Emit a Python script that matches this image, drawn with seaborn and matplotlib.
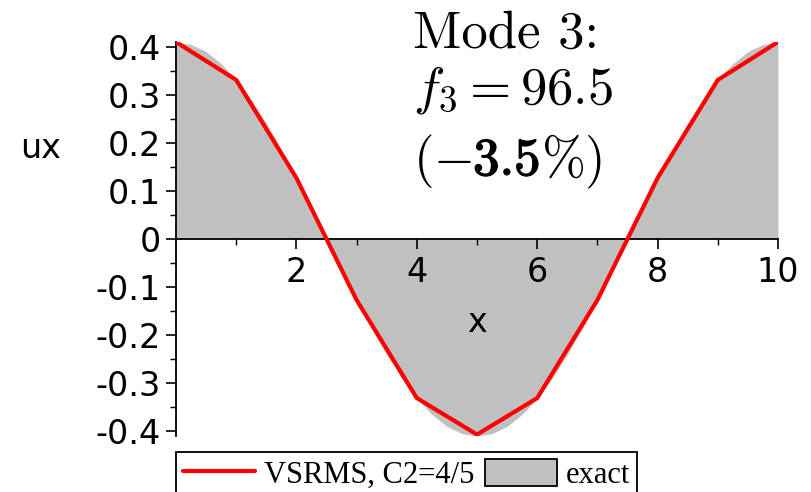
import numpy as np
import pandas as pd
import seaborn as sns
import matplotlib.pyplot as plt
import matplotlib.patheffects as pe
from matplotlib.ticker import MultipleLocator, FixedLocator

sns.set_theme(style="ticks")
plt.rcParams['font.family'] = ['DejaVu Sans']
plt.rcParams['mathtext.fontset'] = 'cm'
plt.rcParams['axes.unicode_minus'] = False
for k in ['text.color', 'axes.labelcolor', 'xtick.color', 'ytick.color', 'axes.edgecolor']:
    plt.rcParams[k] = 'black'

# VSRMS solution, sampled at the nodes
x_nodes = [0, 1, 2, 3, 4, 5, 6, 7, 8, 9, 10]
ux_nodes = [0.41, 0.331, 0.127, -0.127, -0.331, -0.407, -0.331, -0.127, 0.127, 0.331, 0.41]

# exact mode shape
x_exact = [0, 0.25, 0.5, 0.75, 1, 1.25, 1.5, 1.75, 2, 2.25, 2.5, 2.75, 3, 3.25, 3.5, 3.75, 4, 4.25,
           4.5, 4.75, 5, 5.25, 5.5, 5.75, 6, 6.25, 6.5, 6.75, 7, 7.25, 7.5, 7.75, 8, 8.25, 8.5,
           8.75, 9, 9.25, 9.5, 9.75, 10]
ux_exact = [0.41, 0.405, 0.39, 0.365, 0.332, 0.29, 0.241, 0.186, 0.127, 0.064, 0.0, -0.064,
            -0.127, -0.186, -0.241, -0.29, -0.332, -0.365, -0.39, -0.405, -0.41, -0.405, -0.39,
            -0.365, -0.332, -0.29, -0.241, -0.186, -0.127, -0.064, 0.0, 0.064, 0.127, 0.186,
            0.241, 0.29, 0.332, 0.365, 0.39, 0.405, 0.41]

xticks = [2, 4, 6, 8, 10]
yticks = [-0.4, -0.3, -0.2, -0.1, 0, 0.1, 0.2, 0.3, 0.4]
ytick_labels = ["-0.4", "-0.3", "-0.2", "-0.1", "0", "0.1", "0.2", "0.3", "0.4"]

df = pd.DataFrame({"x": x_nodes, "ux": ux_nodes})

W, H = 812, 492
fig = plt.figure(figsize=(W / 100, H / 100), dpi=100)
ax = fig.add_axes([176 / W, 56 / H, 602 / W, 394 / H])
ax.set_axisbelow(False)

ax.fill_between(x_exact, ux_exact, 0, color="#c0c0c0", linewidth=0, label="exact", zorder=1)
sns.lineplot(data=df, x="x", y="ux", ax=ax, color="red", linewidth=3,
             label="VSRMS, C2=4/5", zorder=3, legend=False)

ax.set_xlim(0, 10)
ax.set_ylim(-0.41, 0.41)
ax.spines['left'].set_position(('data', 0))
ax.spines['bottom'].set_position(('data', 0))
ax.spines['top'].set_visible(False)
ax.spines['right'].set_visible(False)
for s in ['left', 'bottom']:
    ax.spines[s].set_linewidth(1.3)
    ax.spines[s].set_color("black")
    ax.spines[s].set_zorder(2)

ax.xaxis.set_major_locator(FixedLocator(xticks))
ax.xaxis.set_minor_locator(FixedLocator([1, 3, 5, 7, 9]))
ax.yaxis.set_minor_locator(MultipleLocator(0.05))
ax.set_yticks(yticks)
ax.set_yticklabels(ytick_labels)
ax.tick_params(which='major', length=7, width=1.2, labelsize=24, pad=4, color="black",
               labelcolor="black")
ax.tick_params(which='minor', length=4, width=1.0, color="black")
ax.tick_params(axis='x', which='major', pad=5)

ax.set_xlabel("")
ax.set_ylabel("")
fig.text(477 / W, 1 - 323 / H, "x", fontsize=24, ha="center", va="center", color="black")
fig.text(41 / W, 1 - 148 / H, "ux", fontsize=24, ha="center", va="center", color="black")

# annotation, Computer Modern
fig.text(413 / W, 1 - 48 / H, "Mode 3:", fontsize=38, family="cmr10", va="baseline",
         color="black")
fig.text(413 / W, 1 - 103 / H, r"$f_3 = 96.5$", fontsize=38, va="baseline", color="black")

renderer = fig.canvas.get_renderer()
x0 = 413
parts = [(r"$(-$", False), (r"$\mathbf{3.5}$", True), (r"$\%)$", False)]
for txt, bold in parts:
    t = fig.text(x0 / W, 1 - 175 / H, txt, fontsize=38, va="baseline", color="black")
    if bold:
        t.set_path_effects([pe.withStroke(linewidth=1.1, foreground="black")])
    x0 = t.get_window_extent(renderer).x1 + 1

handles, labels = ax.get_legend_handles_labels()
order = [labels.index("VSRMS, C2=4/5"), labels.index("exact")]
leg = fig.legend([handles[i] for i in order], [labels[i] for i in order],
                 loc="upper left", bbox_to_anchor=(176 / W, 1 - 452 / H), ncol=2,
                 frameon=True, fancybox=False, edgecolor="black", framealpha=1,
                 prop={"family": "Liberation Serif", "size": 22},
                 handlelength=2.35, handleheight=1.0, borderpad=0.22, columnspacing=0.36,
                 handletextpad=0.3, borderaxespad=0, labelcolor="black")
leg.get_frame().set_linewidth(1.3)
for p in leg.get_patches():
    p.set_edgecolor("black")
    p.set_linewidth(1.3)

fig.savefig("out.png", dpi=100)
